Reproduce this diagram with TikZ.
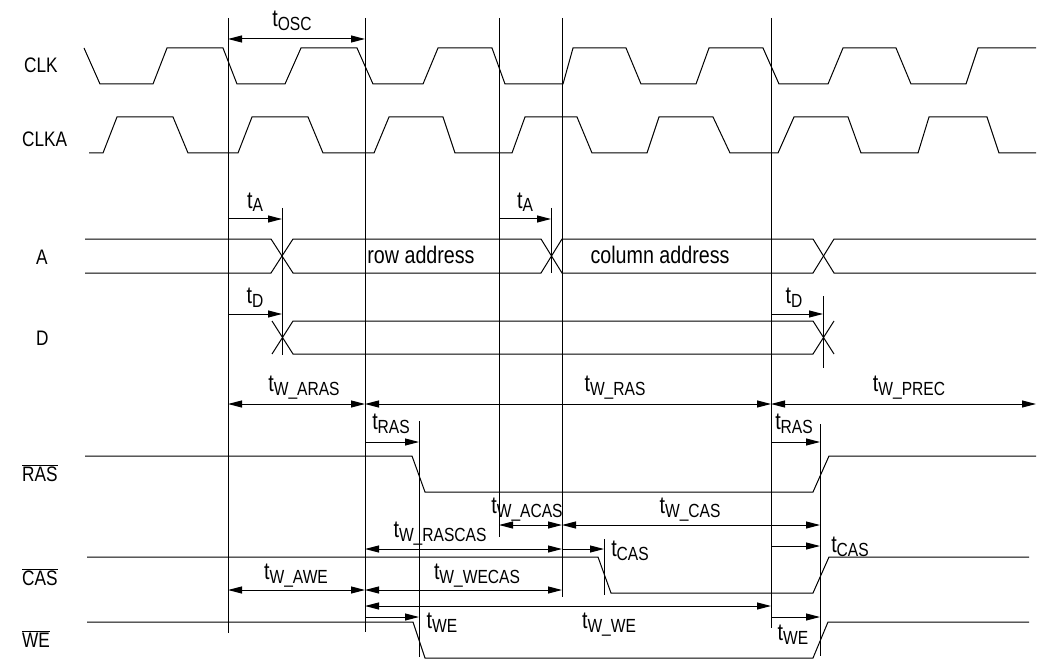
\documentclass[tikz,border=0pt]{standalone}
\usepackage{fontspec}
\setmainfont{Liberation Sans}[FakeStretch=0.82]
\usetikzlibrary{arrows.meta}
\newcommand{\tsym}[1]{{\fontsize{24}{24}\selectfont t}\raisebox{-4pt}{\fontsize{19}{19}\selectfont #1}}
\begin{document}
\begin{tikzpicture}[x=1pt,y=-1pt,
  wave/.style={line width=1pt, line join=miter},
  vline/.style={line width=1pt},
  dimboth/.style={line width=1pt, {Triangle[length=14pt,width=7pt]}-{Triangle[length=14pt,width=7pt]}},
  dimright/.style={line width=1pt, -{Triangle[length=14pt,width=7pt]}},
  tlab/.style={anchor=base, inner sep=0pt},
  sig/.style={anchor=base west, inner sep=0pt, font=\fontsize{21}{21}\selectfont},
  txt/.style={anchor=base, inner sep=0pt, font=\fontsize{24}{24}\selectfont}]
\useasboundingbox (0,0) rectangle (1040,660);

% signal names
\node[sig] (nCLK) at (24,73) {CLK};
\node[sig] (nCLKA) at (22,147) {CLKA};
\node[sig] (nA) at (36,264) {A};
\node[sig] (nD) at (36,345) {D};
\node[sig] (nRAS) at (22,481) {$\overline{\mbox{RAS}}$};
\node[sig] (nCAS) at (22,585) {$\overline{\mbox{CAS}}$};
\node[sig] (nWE) at (22,647) {$\overline{\mbox{WE}}$};

% CLK
\draw[wave] (84,48) -- (100,84) -- (153,84) -- (167,48) -- (223,48) -- (237,84) -- (285,84) -- (301,48) -- (357,48) -- (373,84) -- (423,84) -- (438,48) -- (492,48) -- (505,84) -- (563,84) -- (573,48) -- (626,48) -- (641,84) -- (696,84) -- (709,48) -- (763,48) -- (779,84) -- (828,84) -- (843,48) -- (896,48) -- (911,84) -- (966,84) -- (978,48) -- (1036,48);
% CLKA
\draw[wave] (89,153) -- (103,153) -- (117,117) -- (173,117) -- (188,153) -- (238,153) -- (252,117) -- (308,117) -- (323,153) -- (374,153) -- (389,117) -- (443,117) -- (455,153) -- (512,153) -- (525,117) -- (577,117) -- (592,153) -- (647,153) -- (659,117) -- (713,117) -- (730,153) -- (778,153) -- (794,117) -- (848,117) -- (861,153) -- (918,153) -- (929,117) -- (987,117) -- (999,153) -- (1036,153);

% A bus
\draw[wave] (85,239) -- (271,239) -- (293,273) -- (541,273) -- (562,239) -- (813,239) -- (834,273) -- (1036,273);
\draw[wave] (85,273) -- (271,273) -- (293,239) -- (541,239) -- (562,273) -- (813,273) -- (834,239) -- (1036,239);
\node[txt] (rowaddr) at (421,263) {row address};
\node[txt] (coladdr) at (660,263) {column address};

% D bus
\draw[wave] (272,321) -- (293,354) -- (813,354) -- (834,321);
\draw[wave] (272,354) -- (293,321) -- (813,321) -- (834,354);

% RAS, CAS, WE
\draw[wave] (85,456) -- (412,456) -- (425,492) -- (813,492) -- (829,456) -- (1036,456);
\draw[wave] (87,557) -- (598,557) -- (611,593) -- (813,593) -- (829,557) -- (1029,557);
\draw[wave] (87,622) -- (413,622) -- (425,658) -- (813,658) -- (828,622) -- (1029,622);

% vertical reference lines
\coordinate (v1t) at (228,18); \coordinate (v1b) at (228,633);
\coordinate (v2t) at (365,18); \coordinate (v2b) at (365,632);
\coordinate (v3t) at (562,18); \coordinate (v3b) at (562,597);
\coordinate (v4t) at (499,18); \coordinate (v4b) at (499,537);
\coordinate (v5t) at (771,18); \coordinate (v5b) at (771,628);
\coordinate (a1t) at (282,208); \coordinate (a1b) at (282,355);
\coordinate (a2t) at (551,208); \coordinate (a2b) at (551,273);
\coordinate (d2t) at (823,296); \coordinate (d2b) at (823,368);
\coordinate (r1t) at (419,421); \coordinate (r1b) at (419,657);
\coordinate (r2t) at (820,424); \coordinate (r2b) at (820,656);
\coordinate (c1t) at (604,539); \coordinate (c1b) at (604,595);
\foreach \a/\b in {v1t/v1b,v2t/v2b,v3t/v3b,v4t/v4b,v5t/v5b,a1t/a1b,a2t/a2b,d2t/d2b,r1t/r1b,r2t/r2b,c1t/c1b}
  \draw[vline] (\a) -- (\b);

% timing arrows
\draw[dimboth] (228,39) -- (365,39);
\node[tlab] (tosc) at (292,27) {\tsym{OSC}};
\draw[dimright] (228,219) -- (282,219);
\node[tlab] (ta1) at (255,208) {\tsym{A}};
\draw[dimright] (499,219) -- (551,219);
\node[tlab] (ta2) at (525,208) {\tsym{A}};
\draw[dimright] (228,314) -- (282,314);
\node[tlab] (td1) at (255,303) {\tsym{D}};
\draw[dimright] (771,314) -- (823,314);
\node[tlab] (td2) at (794,303) {\tsym{D}};

\draw[dimboth] (228,404) -- (365,404);
\node[tlab] (twaras) at (304,391) {\tsym{W\_ARAS}};
\draw[dimboth] (365,404) -- (771,404);
\node[tlab] (twras) at (615,391) {\tsym{W\_RAS}};
\draw[dimboth] (771,404) -- (1036,404);
\node[tlab] (twprec) at (909,391) {\tsym{W\_PREC}};

\draw[dimright] (365,442) -- (419,442);
\node[tlab] (tras1) at (391,429) {\tsym{RAS}};
\draw[dimright] (771,442) -- (820,442);
\node[tlab] (tras2) at (794,429) {\tsym{RAS}};

\draw[dimboth] (499,525) -- (562,525);
\node[tlab] (twacas) at (527,513) {\tsym{W\_ACAS}};
\draw[dimboth] (562,525) -- (820,525);
\node[tlab] (twcas) at (690,513) {\tsym{W\_CAS}};

\draw[dimboth] (365,549) -- (562,549);
\node[tlab] (twrascas) at (440,537) {\tsym{W\_RASCAS}};
\draw[dimright] (562,549) -- (604,549);
\node[tlab] (tcas1) at (630,556) {\tsym{CAS}};
\draw[dimright] (771,546) -- (820,546);
\node[tlab] (tcas2) at (850,552) {\tsym{CAS}};

\draw[dimboth] (228,590) -- (365,590);
\node[tlab] (twawe) at (296,579) {\tsym{W\_AWE}};
\draw[dimboth] (365,590) -- (562,590);
\node[tlab] (twwecas) at (477,579) {\tsym{W\_WECAS}};
\draw[dimboth] (365,606) -- (771,606);
\node[tlab] (twwe) at (609,628) {\tsym{W\_WE}};
\draw[dimright] (365,617) -- (419,617);
\node[tlab] (twe1) at (442,628) {\tsym{WE}};
\draw[dimright] (771,617) -- (820,617);
\node[tlab] (twe2) at (793,640) {\tsym{WE}};
\end{tikzpicture}
\end{document}
